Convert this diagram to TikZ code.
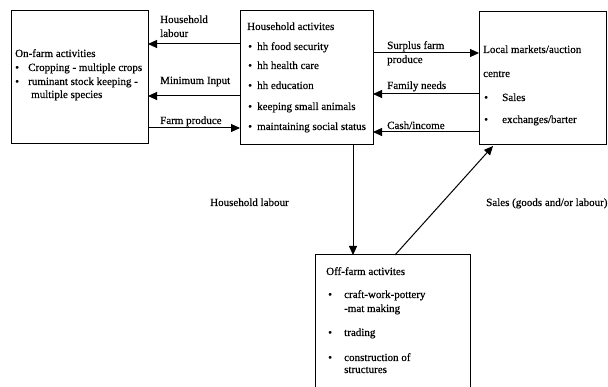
\documentclass[tikz,border=0pt]{standalone}
\usepackage{fontspec}
\setmainfont{Liberation Serif}
\newfontfamily\scanfont[FakeBold=0.4]{Liberation Serif}
\usetikzlibrary{arrows.meta}
\begin{document}
\begin{tikzpicture}[x=1pt,y=-1pt,
  box/.style={draw, line width=1pt, inner sep=0pt, outer sep=0pt},
  txt/.style={anchor=base west, inner sep=0pt, font=\scanfont\fontsize{11}{13}\selectfont},
  arr/.style={line width=1pt, -{Triangle[length=9pt,width=8pt]}}]
\useasboundingbox (0,0) rectangle (608,387);
\fill[white] (0,0) rectangle (608,387);
% boxes
\node[box, minimum width=137pt, minimum height=133pt] (onfarm) at (79.5,77.5) {};
\node[box, minimum width=133pt, minimum height=134pt] (hh) at (306.5,78) {};
\node[box, minimum width=127pt, minimum height=133pt] (mkt) at (542.5,78.5) {};
\node[box, minimum width=155pt, minimum height=140pt] (off) at (392.5,325) {};
% on-farm text
\node[txt] (t1) at (15,57) {On-farm activities};
\node[txt] (b1) at (15,71) {\textbullet};
\node[txt] (t2) at (28,71) {Cropping - multiple crops};
\node[txt] (b2) at (15,85) {\textbullet};
\node[txt] (t3) at (28,85) {ruminant stock keeping -};
\node[txt] (t4) at (31,98) {multiple species};
% household text
\node[txt] (h0) at (247,30) {Household activites};
\node[txt] (hb1) at (248,50) {\textbullet};
\node[txt] (h1) at (257,50) {hh food security};
\node[txt] (hb2) at (248,69) {\textbullet};
\node[txt] (h2) at (257,69) {hh health care};
\node[txt] (hb3) at (248,89) {\textbullet};
\node[txt] (h3) at (257,89) {hh education};
\node[txt] (hb4) at (248,110) {\textbullet};
\node[txt] (h4) at (257,110) {keeping small animals};
\node[txt] (hb5) at (248,130) {\textbullet};
\node[txt] (h5) at (257,130) {maintaining social status};
% market text
\node[txt] (m0) at (483,53) {Local markets/auction};
\node[txt] (m1) at (483,77) {centre};
\node[txt] (mb2) at (484,101) {\textbullet};
\node[txt] (m2) at (502,101) {Sales};
\node[txt] (mb3) at (484,123) {\textbullet};
\node[txt] (m3) at (502,123) {exchanges/barter};
% off-farm text
\node[txt] (o0) at (326,275) {Off-farm activites};
\node[txt] (ob1) at (328,298) {\textbullet};
\node[txt] (o1) at (344,298) {craft-work-pottery};
\node[txt] (o2) at (344,312) {-mat making};
\node[txt] (ob2) at (328,336) {\textbullet};
\node[txt] (o3) at (344,336) {trading};
\node[txt] (ob3) at (328,361) {\textbullet};
\node[txt] (o4) at (344,361) {construction of};
\node[txt] (o5) at (344,373) {structures};
% left arrows
\draw[arr] (hh.west |- 0,44) -- (onfarm.east |- 0,44);
\draw[arr] (hh.west |- 0,96) -- (onfarm.east |- 0,96);
\draw[arr] (onfarm.east |- 0,128) -- (hh.west |- 0,128);
\node[txt] (l1) at (160,23) {Household};
\node[txt] (l2) at (160,37) {labour};
\node[txt] (l3) at (160,84) {Minimum Input};
\node[txt] (l4) at (160,124) {Farm produce};
% right arrows
\draw[arr] (hh.east |- 0,53) -- (mkt.west |- 0,53);
\draw[arr] (mkt.west |- 0,94) -- (hh.east |- 0,94);
\draw[arr] (mkt.west |- 0,132) -- (hh.east |- 0,132);
\node[txt] (r1) at (387,49) {Surplus farm};
\node[txt] (r2) at (387,63) {produce};
\node[txt] (r3) at (387,89) {Family needs};
\node[txt] (r4) at (387,129) {Cash/income};
% vertical and diagonal
\draw[arr] (hh.south -| 353,0) -- (off.north -| 353,0);
\draw[arr] (off.north -| 395,0) -- (493,146);
\node[txt] (v1) at (210,206) {Household labour};
\node[txt] (v2) at (486,206) {Sales (goods and/or labour)};
\end{tikzpicture}
\end{document}
